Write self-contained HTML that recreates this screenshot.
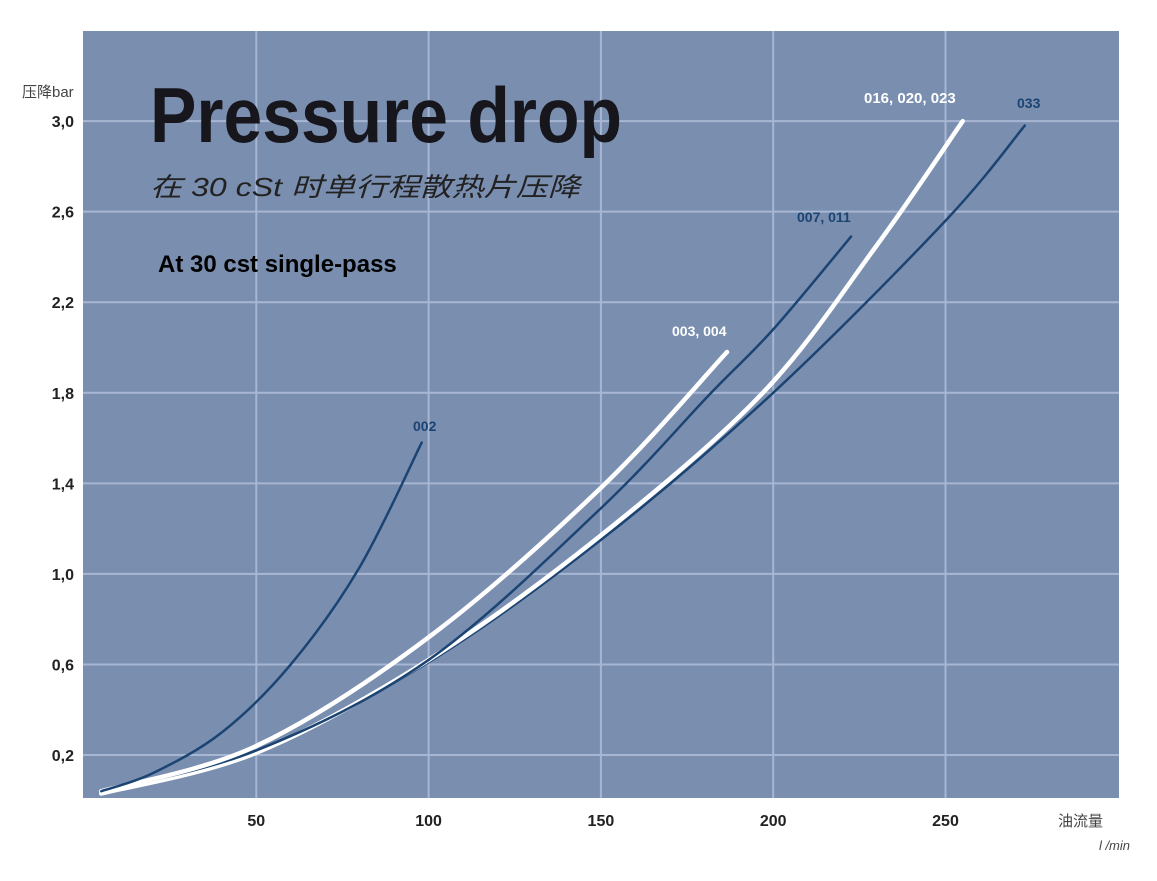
<!DOCTYPE html>
<html><head><meta charset="utf-8"><style>
body{margin:0;background:#fff;width:1157px;height:881px;overflow:hidden}
svg{display:block}
</style></head><body>
<svg id="chart" width="1157" height="881" xmlns="http://www.w3.org/2000/svg" font-family="'Liberation Sans','Noto Sans CJK SC',sans-serif">
<rect x="83" y="31" width="1036" height="767" fill="#7a8eb0"/>
<g id="grid"></g>
<g id="ticks"></g>
<g id="lines"></g>
<text x="150" y="142" font-size="78" font-weight="bold" fill="#16161c" textLength="472" lengthAdjust="spacingAndGlyphs">Pressure drop</text>
<text x="150" y="196" font-size="26" font-style="italic" fill="#222" textLength="430" lengthAdjust="spacingAndGlyphs">在 30 cSt  时单行程散热片压降</text>
<text x="158" y="272" font-size="24" font-weight="bold" fill="#000">At 30 cst single-pass</text>
<text x="22" y="97" font-size="15" fill="#444">压降bar</text>
<text x="1058" y="826" font-size="15" fill="#444">油流量</text>
<text x="1130" y="850" font-size="13" font-style="italic" fill="#444" text-anchor="end">l /min</text>
<text x="413" y="431" font-size="14" font-weight="bold" fill="#1b4472">002</text>
<text x="672" y="336" font-size="14" font-weight="bold" fill="#fff">003,  004</text>
<text x="797" y="222" font-size="14" font-weight="bold" fill="#1b4472">007, 011</text>
<text x="864" y="103" font-size="15" font-weight="bold" fill="#fff">016, 020, 023</text>
<text x="1017" y="108" font-size="14" font-weight="bold" fill="#1b4472">033</text>
</svg>
<script>
const xTicks=[50,100,150,200,250];
const yTicks=[0.2,0.6,1.0,1.4,1.8,2.2,2.6,3.0];
const yTickLabels=["0,2","0,6","1,0","1,4","1,8","2,2","2,6","3,0"];
const seriesNames=["002","003-004","007-011","016-020-023","033"];
const flow002=[5,20,40,60,80,98];
const dp002=[0.04,0.12,0.3,0.6,1.03,1.58];
const flow003=[5,50,100,150,186.6];
const dp003=[0.04,0.24,0.72,1.38,1.98];
const flow007=[5,50,100,150,182,200,222.6];
const dp007=[0.04,0.22,0.62,1.29,1.8,2.08,2.49];
const flow016=[5,50,100,150,197,230,255];
const dp016=[0.03,0.21,0.62,1.17,1.8,2.45,3.0];
const flow033=[5,50,100,150,200,250,273];
const dp033=[0.04,0.22,0.61,1.15,1.8,2.56,2.98];

const NS="http://www.w3.org/2000/svg";
const X=v=>84+v*3.446;
const Y=v=>800.3-v*226.4;
const grid=document.getElementById('grid'),ticks=document.getElementById('ticks'),lines=document.getElementById('lines');
xTicks.forEach(t=>{
  const l=document.createElementNS(NS,'line');
  
  
  l.setAttribute('x1',X(t));l.setAttribute('x2',X(t));l.setAttribute('y1',31);l.setAttribute('y2',798);
  l.setAttribute('stroke','#a7b6d2');l.setAttribute('stroke-width','2');grid.appendChild(l);
  const tx=document.createElementNS(NS,'text');
  
  
  tx.setAttribute('x',X(t));tx.setAttribute('y',826);tx.setAttribute('text-anchor','middle');
  tx.setAttribute('font-size','16');tx.setAttribute('font-weight','bold');tx.setAttribute('fill','#222');
  tx.textContent=t;ticks.appendChild(tx);
});
yTicks.forEach((t,i)=>{
  const l=document.createElementNS(NS,'line');
  
  
  l.setAttribute('x1',83);l.setAttribute('x2',1119);l.setAttribute('y1',Y(t));l.setAttribute('y2',Y(t));
  l.setAttribute('stroke','#a7b6d2');l.setAttribute('stroke-width','2');grid.appendChild(l);
  const tx=document.createElementNS(NS,'text');
  
  
  tx.setAttribute('x',74);tx.setAttribute('y',Y(t)+6);tx.setAttribute('text-anchor','end');
  tx.setAttribute('font-size','16');tx.setAttribute('font-weight','bold');tx.setAttribute('fill','#222');
  tx.textContent=yTickLabels[i];ticks.appendChild(tx);
});
function smooth(xs,ys){
  const p=xs.map((x,i)=>[X(x),Y(ys[i])]);
  let d='M'+p[0][0]+','+p[0][1];
  for(let i=0;i<p.length-1;i++){
    const p0=p[i-1]||p[i],p1=p[i],p2=p[i+1],p3=p[i+2]||p2;
    const c1=[p1[0]+(p2[0]-p0[0])/6,p1[1]+(p2[1]-p0[1])/6];
    const c2=[p2[0]-(p3[0]-p1[0])/6,p2[1]-(p3[1]-p1[1])/6];
    d+=' C'+c1+' '+c2+' '+p2;
  }
  return d;
}
const defs=[[flow033,dp033,'#1b4472',2.5],[flow016,dp016,'#ffffff',4.5],[flow007,dp007,'#1b4472',2.5],[flow003,dp003,'#ffffff',4.5],[flow002,dp002,'#1b4472',2.5]];
const nm=['line-033','line-016-020-023','line-007-011','line-003-004','line-002'];
defs.forEach((s,i)=>{
  const p=document.createElementNS(NS,'path');
  
  
  p.setAttribute('d',smooth(s[0],s[1]));p.setAttribute('fill','none');
  p.setAttribute('stroke',s[2]);p.setAttribute('stroke-width',s[3]);p.setAttribute('stroke-linecap','round');
  lines.appendChild(p);
});
</script>
</body></html>
